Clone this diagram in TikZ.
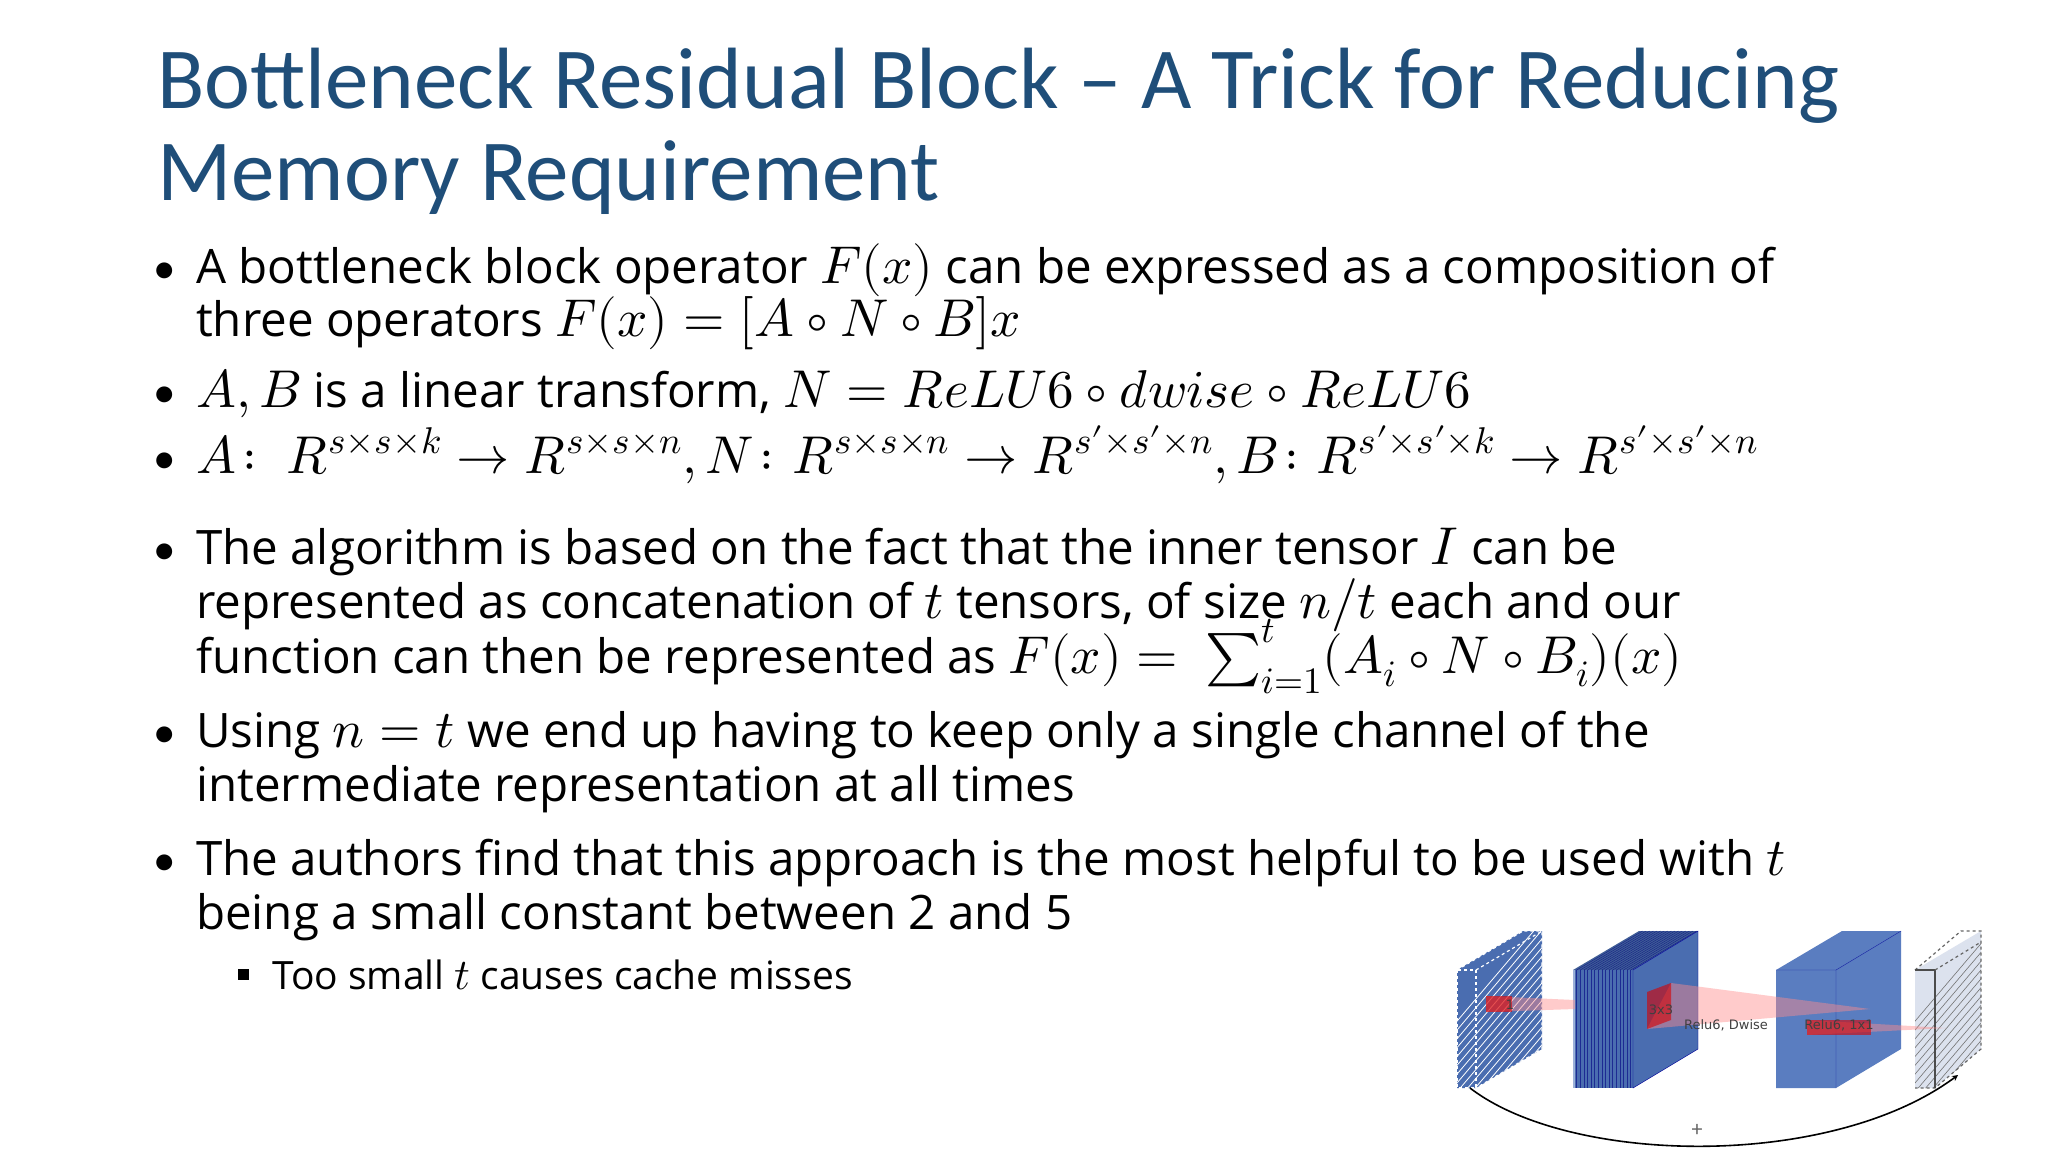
\documentclass[tikz,border=0pt]{standalone}
\usepackage{amsmath}
\usepackage{fontspec}
\usepackage{unicode-math}
\setmainfont{Carlito}
\newfontfamily\bodyfont{Open Sans}
\setsansfont{DejaVu Sans}
\setmathfont[Scale=1.12]{Latin Modern Math}
\begin{document}
\begin{tikzpicture}[x=1pt,y=-1pt,
  title/.style={anchor=base west,inner sep=0,font=\fontsize{87}{87}\selectfont,text=titleblue},
  body/.style={anchor=base west,inner sep=0,font=\bodyfont\fontsize{47.5}{56}\selectfont},
  sub/.style={anchor=base west,inner sep=0,font=\bodyfont\fontsize{39}{45}\selectfont},
  bul/.style={anchor=base,inner sep=0,font=\fontsize{45}{54}\selectfont},
  lab/.style={inner sep=0,font=\sffamily\fontsize{13}{13}\selectfont,text=black!75},
  redp/.style={fill=red!85!black,fill opacity=0.6},
  pinkp/.style={fill=red!45,fill opacity=0.45}]
\definecolor{titleblue}{HTML}{1F4E79}
\definecolor{cubeA}{HTML}{4A6DB0}
\definecolor{cubeB}{HTML}{5A7DC0}
\definecolor{cubeG}{HTML}{DCE2EE}
\useasboundingbox[fill=white] (0,0) rectangle (2048,1152);
% title
\node[title] (t1) at (157,108) {Bottleneck Residual Block -- A Trick for Reducing};
\node[title] (t2) at (157,200) {Memory Requirement};
% bullets
\foreach \y/\n in {283/b1,407/b2,473/b3,564/b4,747/b5,875/b6}
  \node[bul] (\n) at (165,\y) {•};
\node[body] (l1) at (196,283) {A bottleneck block operator $F(x)$ can be expressed as a composition of};
\node[body] (l2) at (196,336) {three operators $F(x)=[A\circ N\circ B]x$};
\node[body] (l3) at (196,407) {$A,B$ is a linear transform, $N=ReLU6\circ dwise\circ ReLU6$};
\node[body] (l4) at (196,473) {$A\colon\ R^{s\times s\times k}\to R^{s\times s\times n}, N\colon R^{s\times s\times n}\to R^{s\prime\times s\prime\times n}, B\colon R^{s\prime\times s\prime\times k}\to R^{s\prime\times s\prime\times n}$};
\node[body] (l5) at (196,564) {The algorithm is based on the fact that the inner tensor $I$ can be};
\node[body] (l6) at (196,618) {represented as concatenation of $t$ tensors, of size $n/t$ each and our};
\node[body] (l7) at (196,673) {function can then be represented as $F(x)=\ \textstyle\sum_{i=1}^{t}(A_i\circ N\circ B_i)(x)$};
\node[body] (l8) at (196,747) {Using $n=t$ we end up having to keep only a single channel of the};
\node[body] (l9) at (196,801) {intermediate representation at all times};
\node[body] (l10) at (196,875) {The authors find that this approach is the most helpful to be used with $t$};
\node[body] (l11) at (196,929) {being a small constant between 2 and 5};
\node[sub] (sb) at (238,980) {\rule{11pt}{11pt}};
\node[sub] (l12) at (272,989) {Too small $t$ causes cache misses};
% ---- figure ----
% cube 1 (hatched blue)
\fill[cubeA] (1457,970) -- (1523,931) -- (1542,931) -- (1542,1049) -- (1476,1088) -- (1457,1088) -- cycle;
\begin{scope}
\clip (1457,970) -- (1523,931) -- (1542,931) -- (1542,1049) -- (1476,1088) -- (1457,1088) -- cycle;
\foreach \k in {0,...,26} \draw[white,line width=0.8] (1390+\k*7.5,1100) -- ++(170,-200);
\end{scope}
\draw[white,dashed,line width=1.2] (1457,970) rectangle (1476,1088);
\draw[white,dashed,line width=1.2] (1476,970) -- (1542,931) -- (1542,1049) -- (1476,1088);
\draw[white,dashed,line width=1.2] (1457,970) -- (1523,931) -- (1542,931);
% cube 2 (slices)
\fill[cubeA!85!black] (1573,970) -- (1639,931) -- (1698,931) -- (1633,970) -- cycle;
\fill[cubeA] (1633,970) -- (1698,931) -- (1698,1049) -- (1633,1088) -- cycle;
\fill[cubeA] (1573,970) rectangle (1633,1088);
\fill[cubeB!60!white] (1573,970) rectangle (1575,1088);
\foreach \k in {1,...,16} {
  \draw[black!50!blue,line width=0.5,opacity=0.6] (1573+\k*3.6,970) -- ++(0,118);
  \draw[black!50!blue,line width=0.5,opacity=0.6] (1573+\k*3.6,970) -- ++(66,-39);}
\draw[black!40!blue,line width=0.4] (1633,970) -- (1698,931) -- (1698,1049) -- (1633,1088) -- cycle;
% cube 3
\fill[cubeB] (1776,970) -- (1842,931) -- (1901,931) -- (1901,1049) -- (1836,1088) -- (1776,1088) -- cycle;
\draw[black!40!blue,line width=0.4,opacity=0.7] (1776,970) -- (1836,970) -- (1901,931) (1836,970) -- (1836,1088);
% cube 4 (gray hatched)
\fill[cubeG] (1915,970) -- (1981,931) -- (1981,1049) -- (1935,1088) -- (1915,1088) -- cycle;
\begin{scope}
\clip (1915,970) -- (1961,931) -- (1981,931) -- (1981,1049) -- (1935,1088) -- (1915,1088) -- cycle;
\foreach \k in {0,...,26} \draw[black!55,line width=0.6] (1848+\k*7.5,1100) -- ++(170,-200);
\end{scope}
\draw[black!60,dashed,line width=1.2] (1915,970) -- (1961,931) -- (1981,931) -- (1981,1049) -- (1935,1088) -- (1915,1088);
\draw[black!70,line width=1.2] (1915,970) -- (1935,970) -- (1935,1088);
\draw[black!60,dashed,line width=1.2] (1935,970) -- (1981,942);
% red projections
\fill[pinkp] (1486,996) -- (1575,1000) -- (1575,1009) -- (1486,1012) -- cycle;
\fill[redp] (1486,996) rectangle (1512,1012);
\fill[pinkp] (1671,983) -- (1870,1009) -- (1647,1029) -- cycle;
\fill[redp] (1647,992) -- (1671,983) -- (1671,1020) -- (1647,1029) -- cycle;
\fill[pinkp] (1807,1020) -- (1946,1028) -- (1807,1035) -- cycle;
\fill[redp] (1807,1020) rectangle (1871,1035);
\node[lab] (n1) at (1510,1005) {1};
\node[lab] (n33) at (1661,1010) {3x3};
\node[lab] (nd) at (1726,1025) {Relu6, Dwise};
\node[lab] (nr) at (1839,1025) {Relu6, 1x1};
% residual arc
\coordinate (ra) at (1470,1088);
\coordinate (rb) at (1958,1075);
\draw[line width=1.6,-stealth] (ra) .. controls (1570,1165) and (1830,1170) .. (rb);
\node[inner sep=0,font=\fontsize{22}{22}\selectfont,text=black!60] (plus) at (1697,1130) {+};
\end{tikzpicture}
\end{document}
